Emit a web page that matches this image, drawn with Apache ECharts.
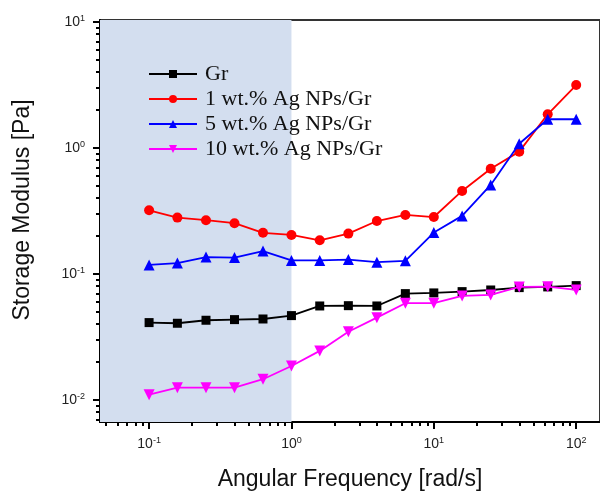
<!DOCTYPE html>
<html>
<head>
<meta charset="utf-8">
<script src="https://cdn.jsdelivr.net/npm/echarts@6/dist/echarts.min.js"></script>
<style>
  html, body { margin: 0; padding: 0; background: #fff; }
  #chart { width: 600px; height: 491px; }
</style>
</head>
<body>
<div id="chart"></div>
<script>
// angular frequency [rad/s], 5 points per decade
var freq = [0.1, 0.158, 0.251, 0.398, 0.631, 1, 1.58, 2.51, 3.98, 6.31, 10, 15.8, 25.1, 39.8, 63.1, 100];

var seriesNames = ['Gr', '1 wt.% Ag NPs/Gr', '5 wt.% Ag NPs/Gr', '10 wt.% Ag NPs/Gr'];

var grValues = [0.0411, 0.0406, 0.0429, 0.0434, 0.0439, 0.0467, 0.0557, 0.0560, 0.0557, 0.0698,
    0.0707, 0.0724, 0.0746, 0.0779, 0.0789, 0.0808];
var ag1Values = [0.320, 0.280, 0.267, 0.253, 0.212, 0.204, 0.185, 0.209, 0.263, 0.294,
    0.283, 0.456, 0.685, 0.935, 1.85, 3.16];
var ag5Values = [0.118, 0.122, 0.136, 0.135, 0.152, 0.128, 0.128, 0.130, 0.124, 0.127,
    0.213, 0.289, 0.509, 1.08, 1.69, 1.69];
var ag10Values = [0.0110, 0.0125, 0.0125, 0.0125, 0.0146, 0.0186, 0.0245, 0.0348, 0.0450, 0.0586,
    0.0586, 0.0669, 0.0681, 0.0789, 0.0793, 0.0746];

// tick values
var xMajorTicks = [0.1, 1, 10, 100];
var yMajorTicks = [0.01, 0.1, 1, 10];
var xMinorTicks = [0.05, 0.06, 0.07, 0.08, 0.09, 0.2, 0.3, 0.4, 0.5, 0.6, 0.7, 0.8, 0.9,
    2, 3, 4, 5, 6, 7, 8, 9, 20, 30, 40, 50, 60, 70, 80, 90];
var yMinorTicks = [0.007, 0.008, 0.009, 0.02, 0.03, 0.04, 0.05, 0.06, 0.07, 0.08, 0.09,
    0.2, 0.3, 0.4, 0.5, 0.6, 0.7, 0.8, 0.9, 2, 3, 4, 5, 6, 7, 8, 9];

var xMin = 0.0452, xMax = 147;
var yMin = 0.00668, yMax = 10.37;
var shadeEnd = 1;

var colors = ['#000000', '#ff0000', '#0000ff', '#ff00ff'];
var symbols = ['rect', 'circle', 'triangle', 'path://M0,0 L10,0 L5,9 Z'];
var symbolSizes = [9, 10, 11, 11];

function pairs(xs, ys) {
    var out = [];
    for (var i = 0; i < xs.length; i++) {
        out.push([xs[i], ys[i]]);
    }
    return out;
}

function powLabel(v) {
    var e = Math.round(Math.log(v) / Math.LN10);
    return '{b|10}{s|' + e + '}';
}

var labelRich = {
    b: { fontFamily: 'Liberation Sans', fontSize: 14, color: '#222', lineHeight: 16 },
    s: { fontFamily: 'Liberation Sans', fontSize: 9, color: '#222', verticalAlign: 'top', lineHeight: 10 }
};

var allValues = [grValues, ag1Values, ag5Values, ag10Values];
var series = [];
for (var k = 0; k < allValues.length; k++) {
    var s = {
        name: seriesNames[k],
        type: 'line',
        xAxisIndex: 0,
        yAxisIndex: 0,
        data: pairs(freq, allValues[k]),
        symbol: symbols[k],
        symbolSize: symbolSizes[k],
        showAllSymbol: true,
        lineStyle: { color: colors[k], width: 1.8 },
        itemStyle: { color: colors[k] },
        z: 3 + k
    };
    if (k == 0) {
        s.markArea = {
            silent: true,
            itemStyle: { color: 'rgb(211,222,239)' },
            data: [[{ xAxis: xMin }, { xAxis: shadeEnd }]],
            z: 1
        };
    }
    series.push(s);
}

var chart = echarts.init(document.getElementById('chart'));

var option = {
    backgroundColor: '#fff',
    animation: false,
    grid: {
        left: 100, top: 20, right: 0, bottom: 69,
        outerBoundsMode: 'none',
        containLabel: false,
        show: true,
        borderColor: '#333',
        borderWidth: 2,
        backgroundColor: 'transparent'
    },
    legend: {
        orient: 'vertical',
        left: 143,
        top: 58,
        itemWidth: 48,
        itemHeight: 10,
        itemGap: 3,
        data: seriesNames,
        textStyle: { fontFamily: 'Liberation Serif', fontSize: 22, color: '#111', padding: [0, 0, 0, 3] }
    },
    xAxis: [
        {
            type: 'log',
            min: xMin,
            max: xMax,
            name: 'Angular Frequency [rad/s]',
            nameLocation: 'middle',
            nameGap: 46,
            nameTextStyle: { fontFamily: 'Liberation Sans', fontSize: 23, color: '#111' },
            axisLine: { lineStyle: { color: '#000', width: 2 } },
            axisTick: { show: true, inside: false, length: 7, lineStyle: { color: '#000', width: 2 }, customValues: xMajorTicks },
            axisLabel: { margin: 14, formatter: powLabel, rich: labelRich, customValues: xMajorTicks },
            splitLine: { show: false },
            minorTick: { show: false }
        },
        {
            type: 'log',
            position: 'bottom',
            min: xMin,
            max: xMax,
            axisLine: { show: false },
            axisTick: { show: true, inside: false, length: 4, lineStyle: { color: '#000', width: 2 }, customValues: xMinorTicks },
            axisLabel: { show: false },
            splitLine: { show: false }
        }
    ],
    yAxis: [
        {
            type: 'log',
            min: yMin,
            max: yMax,
            name: 'Storage Modulus [Pa]',
            nameLocation: 'middle',
            nameGap: 66,
            nameTextStyle: { fontFamily: 'Liberation Sans', fontSize: 23, color: '#111', padding: [0, 0, 0, 22] },
            axisLine: { lineStyle: { color: '#000', width: 2 } },
            axisTick: { show: true, inside: false, length: 7, lineStyle: { color: '#000', width: 2 }, customValues: yMajorTicks },
            axisLabel: { margin: 15, formatter: powLabel, rich: labelRich, customValues: yMajorTicks },
            splitLine: { show: false },
            minorTick: { show: false }
        },
        {
            type: 'log',
            position: 'left',
            min: yMin,
            max: yMax,
            axisLine: { show: false },
            axisTick: { show: true, inside: false, length: 4, lineStyle: { color: '#000', width: 2 }, customValues: yMinorTicks },
            axisLabel: { show: false },
            splitLine: { show: false }
        }
    ],
    series: series
};

chart.setOption(option);
</script>
</body>
</html>
